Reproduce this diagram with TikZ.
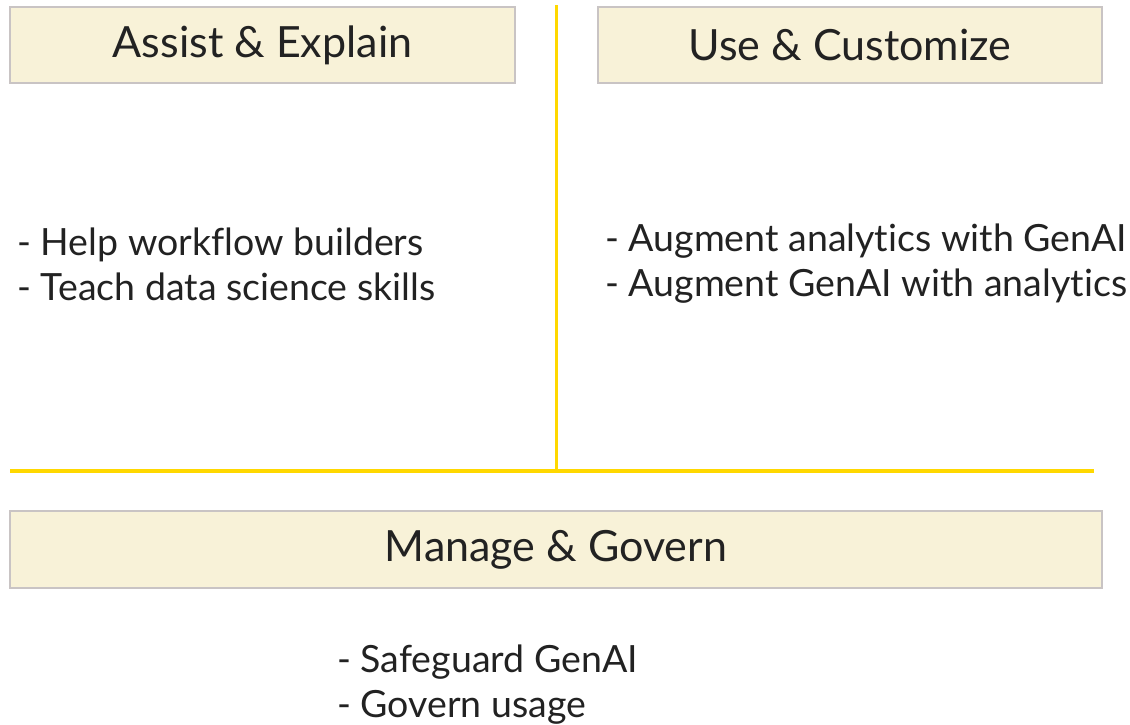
\documentclass[tikz,border=0pt]{standalone}
\usepackage{fontspec}
\setmainfont[Ligatures={NoCommon}]{Lato}
\definecolor{boxfill}{HTML}{F8F2D8}
\definecolor{boxline}{HTML}{C9C4C4}
\definecolor{gold}{HTML}{FFD800}
\definecolor{ink}{HTML}{222222}
\begin{document}
\begin{tikzpicture}[x=1pt,y=-1pt,
  hdr/.style={draw=boxline,fill=boxfill,line width=2pt,inner sep=0pt,text=ink,font=\fontsize{43}{50}\selectfont},
  body/.style={align=left,text=ink,font=\fontsize{37.5}{45}\selectfont,inner sep=0pt}]
\useasboundingbox (0,0) rectangle (1130,724);
\node[hdr,minimum width=505pt,minimum height=76pt] (ae) at (262.5,45) {Assist \& Explain};
\node[hdr,minimum width=504pt,minimum height=76pt] (uc) at (850,45) {Use \& Customize};
\node[hdr,minimum width=1092pt,minimum height=77pt] (mg) at (556,549.5) {Manage \& Govern};
\coordinate (vtop) at (556,5);
\coordinate (vbot) at (556,470);
\coordinate (hl) at (10,471);
\coordinate (hr) at (1094,471);
\draw[gold,line width=3pt] (vtop) -- (vbot);
\draw[gold,line width=4pt] (hl) -- (hr);
\node[body,anchor=west] (t1) at (17,264) {- Help workflow builders\\- Teach data science skills};
\node[body,anchor=west] (t2) at (605,264) {- Augment analytics with GenAI\\- Augment GenAI with analytics};
\node[body,anchor=west] (t3) at (337,684.5) {- Safeguard GenAI\\- Govern usage};
\end{tikzpicture}
\end{document}
